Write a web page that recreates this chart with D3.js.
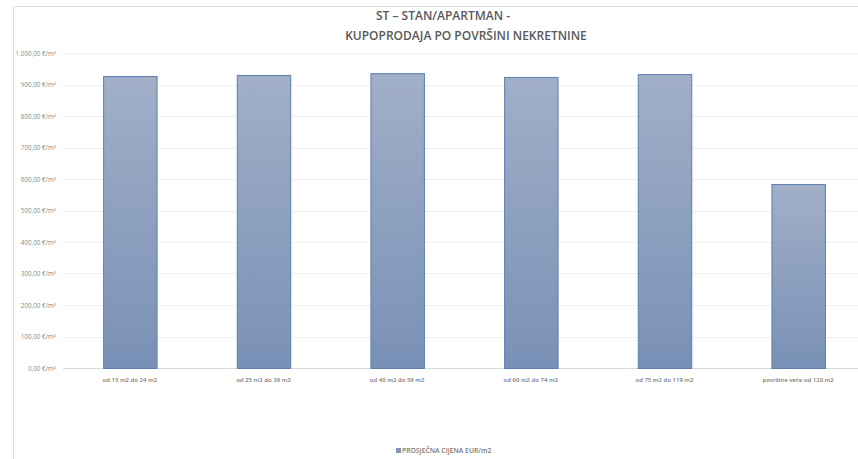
<!DOCTYPE html>
<html>
<head>
<meta charset="utf-8">
<script src="https://cdn.jsdelivr.net/npm/d3@7"></script>
<style>
  body { margin: 0; background: #fff; }
  svg { display: block; font-family: "Open Sans", "Noto Sans", sans-serif; }
</style>
</head>
<body>
<div class="grafico"></div>
<script>
// categorias y valores (EUR/m2)
const kategorije = ['od 15 m2 do 24 m2', 'od 25 m2 do 39 m2', 'od 40 m2 do 59 m2',
    'od 60 m2 do 74 m2', 'od 75 m2 do 119 m2', 'površine veće od 120 m2'];
const cijene = [927, 930, 936, 924, 933, 584];
const yTicks = [0, 100, 200, 300, 400, 500, 600, 700, 800, 900, 1000];
const naslov = ['ST – STAN/APARTMAN -', 'KUPOPRODAJA PO POVRŠINI NEKRETNINE'];
const legenda = 'PROSJEČNA CIJENA EUR/m2';

const ancho = 858, alto = 459;
const margin = { left: 63, right: -7, top: 53, bottom: 91 };

const svg = d3.select('.grafico').append('svg')
    .attr('width', ancho)
    .attr('height', alto);

// gradiente de barras
const grad = svg.append('defs').append('linearGradient')
    .attr('id', 'barGrad')
    .attr('x1', 0).attr('y1', 0).attr('x2', 0).attr('y2', 1);
grad.append('stop').attr('offset', '0%').attr('stop-color', '#a1afc8');
grad.append('stop').attr('offset', '100%').attr('stop-color', '#7990b6');

// marco
svg.append('rect')
    .attr('x', 13.5).attr('y', 6.5)
    .attr('width', ancho).attr('height', alto)
    .attr('fill', 'none').attr('stroke', '#dedede');

const x = d3.scaleBand()
    .domain(kategorije)
    .range([margin.left, ancho - margin.right])
    .paddingInner(0.6)
    .paddingOuter(0.3);

const y = d3.scaleLinear()
    .domain([0, 1000])
    .range([alto - margin.bottom, margin.top]);

const fmt = v => d3.format(',.2f')(v).replace(/,/g, 'X').replace('.', ',').replace(/X/g, '.') + ' €/m²';

// grid
svg.append('g')
    .selectAll('line')
    .data(yTicks)
    .enter().append('line')
    .attr('x1', margin.left).attr('x2', ancho)
    .attr('y1', d => Math.round(y(d)) + 0.5)
    .attr('y2', d => Math.round(y(d)) + 0.5)
    .attr('stroke', d => d === 0 ? '#d9d9d9' : '#efefef');

svg.append('g')
    .selectAll('text')
    .data(yTicks)
    .enter().append('text')
    .attr('x', 56)
    .attr('y', d => y(d) + 2.5)
    .attr('text-anchor', 'end')
    .attr('font-size', '6.3px')
    .attr('fill', '#8a8a8a')
    .text(fmt);

// barras
svg.append('g')
    .selectAll('rect')
    .data(cijene)
    .enter().append('rect')
    .attr('x', (d, i) => x(kategorije[i]) + 0.5)
    .attr('y', d => y(d) + 0.5)
    .attr('width', x.bandwidth())
    .attr('height', d => y(0) - y(d))
    .attr('fill', 'url(#barGrad)')
    .attr('stroke', '#5b7fae')
    .attr('stroke-width', 1);

// etiquetas categorias
svg.append('g')
    .selectAll('text')
    .data(kategorije)
    .enter().append('text')
    .attr('x', d => x(d) + x.bandwidth() / 2)
    .attr('y', 382)
    .attr('text-anchor', 'middle')
    .attr('font-size', '6px')
    .attr('font-weight', 600)
    .attr('fill', '#7a7a7a')
    .text(d => d);

// titulo
svg.append('text')
    .attr('x', 443).attr('y', 20)
    .attr('text-anchor', 'middle')
    .attr('font-size', '12px')
    .attr('font-weight', 600)
    .attr('fill', '#595959')
    .text(naslov[0]);
svg.append('text')
    .attr('x', 466).attr('y', 40)
    .attr('text-anchor', 'middle')
    .attr('font-size', '12px')
    .attr('font-weight', 600)
    .attr('fill', '#595959')
    .text(naslov[1]);

// leyenda
svg.append('rect')
    .attr('x', 396).attr('y', 448)
    .attr('width', 5).attr('height', 5)
    .attr('fill', '#8297bb');
svg.append('text')
    .attr('x', 402).attr('y', 453)
    .attr('font-size', '6.8px')
    .attr('font-weight', 600)
    .attr('fill', '#7a7a7a')
    .text(legenda);
</script>
</body>
</html>
